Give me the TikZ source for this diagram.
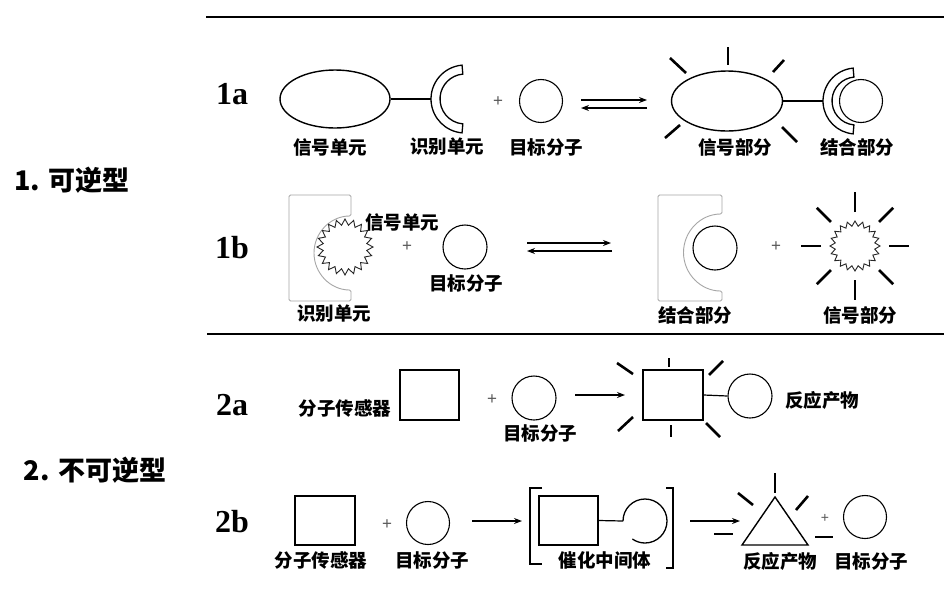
\documentclass[tikz,border=0pt]{standalone}
\usepackage{fontspec}
\setmainfont{Liberation Serif}
\newfontfamily\cjk{Noto Sans CJK SC}
\newfontfamily\plusfont{Liberation Sans}
\usetikzlibrary{shapes.geometric,arrows.meta,calc}
\begin{document}
\begin{tikzpicture}[x=1pt,y=1pt,
  lab/.style={font=\cjk\bfseries\fontsize{18.5}{18.5}\selectfont, inner sep=0pt},
  tag/.style={font=\bfseries\fontsize{32}{32}\selectfont, inner sep=0pt},
  side/.style={font=\cjk\bfseries\fontsize{27}{27}\selectfont, inner sep=0pt},
  plus/.style={font=\plusfont\fontsize{17}{17}\selectfont, text=black!65, inner sep=0pt},
  mol/.style={circle, draw, line width=1.1pt, minimum size=43pt, inner sep=0pt},
  oval/.style={ellipse, draw, line width=1.4pt, inner sep=0pt},
  sensor/.style={rectangle, draw, line width=1.5pt, inner sep=0pt},
  ray/.style={line width=2.6pt},
  thinray/.style={line width=1.2pt},
  link/.style={line width=1.2pt},
  rxn/.style={line width=1.1pt, -{Stealth[length=8pt,width=6pt]}},
  rule/.style={line width=1.3pt},
  receptor/.style={draw=black!35, line width=0.9pt, rounded corners=1.5pt},
  starline/.style={draw=black!85, line width=0.9pt},
  shell/.style={draw, line width=1.3pt},
  bracket/.style={line width=1.5pt}
]
\fill[white] (0,0) rectangle (944,-598);
\path[use as bounding box] (0,0) rectangle (944,-598);

% rules
\coordinate (r1a) at (206,-17); \coordinate (r1b) at (944,-17);
\coordinate (r2a) at (207,-334); \coordinate (r2b) at (944,-334);
\draw[rule] (r1a) -- (r1b);
\draw[rule] (r2a) -- (r2b);

% side labels and tags
\node[side] (t1) at (72,-180) {1. 可逆型};
\node[side] (t2) at (95,-470) {2. 不可逆型};
\node[tag] (g1a) at (232,-94) {1a};
\node[tag] (g1b) at (232,-248) {1b};
\node[tag] (g2a) at (232,-405) {2a};
\node[tag] (g2b) at (232,-522) {2b};

% ---------- 1a ----------
\node[oval, minimum width=110pt, minimum height=58pt] (e1) at (335,-99) {};
\coordinate (k1c) at (465,-99);
\coordinate (k1) at (431,-99);
\draw[shell] (k1c) ++(95:34pt) arc[start angle=95,end angle=265,radius=34pt]
  -- ($(k1c)+(265:25pt)$) arc[start angle=265,end angle=95,radius=25pt] -- cycle;
\draw[link] (e1.east) -- (k1);
\node[plus] (p1) at (498,-102) {+};
\node[mol] (m1) at (541,-101) {};
\coordinate (q1s) at (581,-100); \coordinate (q1e) at (647,-100);
\coordinate (q2s) at (647,-108); \coordinate (q2e) at (581,-108);
\draw[rxn] (q1s) -- (q1e);
\draw[rxn] (q2s) -- (q2e);
\node[oval, minimum width=111pt, minimum height=60pt] (e2) at (727,-101) {};
\draw[ray] (728,-47) -- (728,-65);
\draw[ray] (670,-58) -- (686,-73);
\draw[ray] (773,-72) -- (784,-60);
\draw[ray] (665,-138) -- (680,-125);
\draw[ray] (782,-127) -- (797,-142);
\coordinate (k2c) at (856,-101);
\coordinate (k2) at (823,-101);
\draw[shell] (k2c) ++(95:33pt) arc[start angle=95,end angle=265,radius=33pt]
  -- ($(k2c)+(265:24pt)$) arc[start angle=265,end angle=95,radius=24pt] -- cycle;
\draw[link] (e2.east) -- (k2);
\node[mol] (m2) at (861,-101) {};
\node[lab] (l1) at (330,-147) {信号单元};
\node[lab] (l2) at (447,-147) {识别单元};
\node[lab] (l3) at (546,-147) {目标分子};
\node[lab] (l4) at (735,-147) {信号部分};
\node[lab] (l5) at (857,-147) {结合部分};

% ---------- 1b ----------
\draw[receptor] (351,-216) -- (351,-195) -- (289,-195) -- (289,-301) -- (351,-301) -- (351,-290)
  arc[start angle=270,end angle=90,radius=37pt] -- cycle;
\draw[starline] plot[domain=0:360, samples=41]
  ({345+(25+3*cos(20*\x))*cos(\x)}, {-247+(25+3*cos(20*\x))*sin(\x)}) -- cycle;
\node[lab] (l6) at (402,-222) {信号单元};
\node[plus] (p2) at (407,-247) {+};
\node[mol, minimum size=44pt] (m3) at (465,-247) {};
\node[lab] (l7) at (466,-283) {目标分子};
\node[lab] (l8) at (334,-314) {识别单元};
\coordinate (q3s) at (527,-243); \coordinate (q3e) at (611,-243);
\coordinate (q4s) at (612,-251); \coordinate (q4e) at (527,-251);
\draw[rxn] (q3s) -- (q3e);
\draw[rxn] (q4s) -- (q4e);
\draw[receptor] (722,-214) -- (722,-195) -- (658,-195) -- (658,-301) -- (722,-301) -- (722,-291)
  arc[start angle=270,end angle=90,radius=38.5pt] -- cycle;
\node[mol, minimum size=44pt] (m4) at (715,-248) {};
\node[plus] (p3) at (776,-247) {+};
\draw[starline] plot[domain=0:360, samples=41]
  ({855+(22.5+2.5*cos(20*\x))*cos(\x)}, {-246+(22.5+2.5*cos(20*\x))*sin(\x)}) -- cycle;
\foreach \a in {0,45,...,315}
  \draw[ray] ($(855,-246)+(\a:34pt)$) -- ($(855,-246)+(\a:54pt)$);
\node[lab] (l9) at (695,-315) {结合部分};
\node[lab] (l10) at (860,-315) {信号部分};

% ---------- 2a ----------
\node[lab] (l11) at (345,-408) {分子传感器};
\node[sensor, minimum width=59pt, minimum height=50pt] (s1) at (429.5,-395) {};
\node[plus] (p4) at (492,-400) {+};
\node[mol, minimum size=44pt] (m5) at (534,-398) {};
\node[lab] (l12) at (540,-433) {目标分子};
\coordinate (a1s) at (575,-395); \coordinate (a1e) at (625,-395);
\draw[rxn] (a1s) -- (a1e);
\node[sensor, minimum width=60pt, minimum height=50pt] (s2) at (673,-395) {};
\draw[ray] (669,-358) -- (669,-367);
\draw[ray] (671,-425) -- (671,-437);
\draw[ray] (617,-363) -- (633,-374);
\draw[ray] (709,-375) -- (723,-361);
\draw[ray] (618,-431) -- (633,-417);
\draw[ray] (706,-423) -- (720,-437);
\node[mol, minimum size=44pt] (m6) at (750,-396) {};
\draw[link] (s2.east) -- (m6.west);
\node[lab] (l13) at (822,-400) {反应产物};

% ---------- 2b ----------
\node[sensor, minimum width=60pt, minimum height=49pt] (s3) at (325,-520.5) {};
\node[lab] (l14) at (321,-560) {分子传感器};
\node[plus] (p5) at (387,-525) {+};
\node[mol] (m7) at (428,-523) {};
\node[lab] (l15) at (432,-560) {目标分子};
\coordinate (a2s) at (472,-521); \coordinate (a2e) at (522,-521);
\draw[rxn] (a2s) -- (a2e);
\draw[bracket] (542,-488) -- (530,-488) -- (530,-564) -- (542,-564);
\node[sensor, minimum width=59pt, minimum height=49pt] (s4) at (568.5,-520.5) {};
\coordinate (h1) at (623,-521);
\draw[link] (s4.east) -- (h1);
\draw[shell] (h1) arc[start angle=180,end angle=-125,radius=22pt];
\draw[bracket] (666,-488) -- (673,-488) -- (673,-568) -- (666,-568);
\node[lab] (l16) at (605,-560) {催化中间体};
\coordinate (a3s) at (690,-521); \coordinate (a3e) at (740,-521);
\draw[rxn] (a3s) -- (a3e);
\draw[line width=1.4pt] (775,-497) -- (808,-545) -- (742,-545) -- cycle;
\draw[thinray] (775,-473) -- (775,-493);
\draw[ray] (738,-493) -- (753,-505);
\draw[ray] (796,-510) -- (808,-496);
\draw[ray] (714,-534) -- (733,-534);
\draw[ray] (815,-537) -- (833,-537);
\node[plus, font=\plusfont\fontsize{14}{14}\selectfont] (p6) at (825,-518) {+};
\node[mol] (m8) at (865,-517) {};
\node[lab] (l17) at (780,-561) {反应产物};
\node[lab] (l18) at (871,-561) {目标分子};
\end{tikzpicture}
\end{document}
